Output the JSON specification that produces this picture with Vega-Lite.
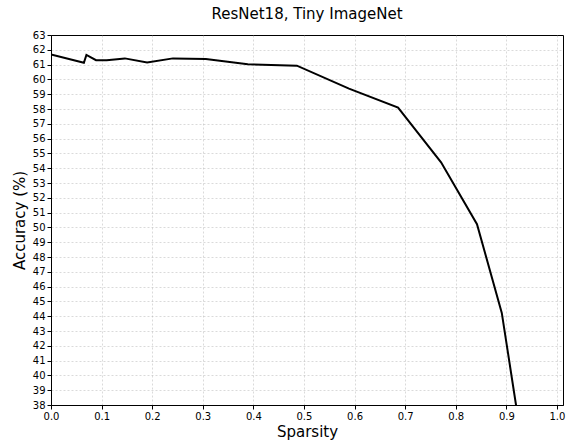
{
  "$schema": "https://vega.github.io/schema/vega-lite/v6.json",
  "width": 512,
  "height": 370,
  "autosize": {"type": "none"},
  "padding": {"left": 51, "top": 35, "right": 3, "bottom": 37},
  "background": "white",
  "title": {"text": "ResNet18, Tiny ImageNet", "font": "DejaVu Sans", "fontSize": 15, "fontWeight": "normal", "color": "black", "offset": 8, "anchor": "middle"},
  "config": {
    "view": {"stroke": "black", "strokeWidth": 1},
    "axis": {
      "labelFont": "DejaVu Sans", "labelFontSize": 10, "labelColor": "black", "labelFlush": false,
      "titleFont": "DejaVu Sans", "titleFontSize": 15, "titleFontWeight": "normal", "titleColor": "black",
      "domain": true, "domainColor": "black", "tickColor": "black", "tickSize": 4,
      "grid": true, "gridColor": "#b0b0b0", "gridDash": [2, 2], "gridWidth": 0.6
    }
  },
  "data": {"values": [
    {"s": 0.0, "acc": 61.68},
    {"s": 0.065, "acc": 61.12},
    {"s": 0.07, "acc": 61.65},
    {"s": 0.089, "acc": 61.3},
    {"s": 0.11, "acc": 61.3},
    {"s": 0.146, "acc": 61.42},
    {"s": 0.19, "acc": 61.15},
    {"s": 0.241, "acc": 61.42},
    {"s": 0.306, "acc": 61.38},
    {"s": 0.389, "acc": 61.02},
    {"s": 0.486, "acc": 60.93},
    {"s": 0.589, "acc": 59.38},
    {"s": 0.686, "acc": 58.1},
    {"s": 0.771, "acc": 54.4},
    {"s": 0.842, "acc": 50.22},
    {"s": 0.891, "acc": 44.22},
    {"s": 0.93, "acc": 35.6}
  ]},
  "mark": {"type": "line", "color": "black", "strokeWidth": 2, "clip": true},
  "encoding": {
    "x": {"field": "s", "type": "quantitative", "title": "Sparsity",
      "scale": {"domain": [0, 1.012], "nice": false, "zero": false},
      "axis": {"values": [0, 0.1, 0.2, 0.3, 0.4, 0.5, 0.6, 0.7, 0.8, 0.9, 1.0], "format": ".1f", "titlePadding": 3, "labelPadding": 2,
        "gridOpacity": {"condition": {"test": "datum.value == 0", "value": 0}, "value": 0.8}}},
    "y": {"field": "acc", "type": "quantitative", "title": "Accuracy (%)",
      "scale": {"domain": [38, 63], "nice": false, "zero": false},
      "axis": {"values": [38,39,40,41,42,43,44,45,46,47,48,49,50,51,52,53,54,55,56,57,58,59,60,61,62,63], "format": "d", "titlePadding": 5, "labelPadding": 2,
        "gridOpacity": {"condition": {"test": "datum.value == 63 || datum.value == 38", "value": 0}, "value": 0.8}}}
  }
}
